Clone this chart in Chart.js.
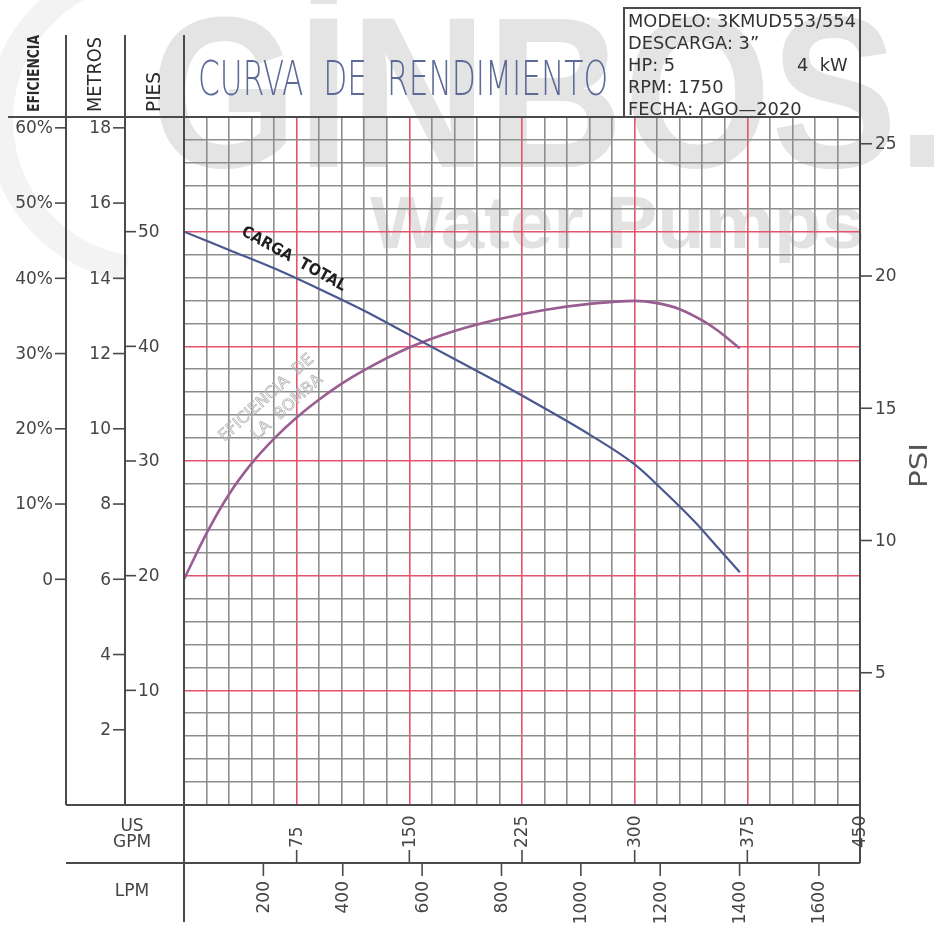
<!DOCTYPE html>
<html>
<head>
<meta charset="utf-8">
<script src="https://cdn.jsdelivr.net/npm/chart.js@4.4.1/dist/chart.umd.min.js"></script>
<style>
  html, body { margin: 0; padding: 0; background: #fff; }
  canvas { display: block; }
</style>
</head>
<body>
<canvas id="curve" width="934" height="929"></canvas>
<script>
// Curva de rendimiento 3KMUD553/554

// carga total (feet) vs caudal (US GPM)
var gpmHead = [0, 30, 60, 90, 120, 150, 180, 210, 240, 270, 300, 320, 340, 355, 370];
var headFt = [50, 48.4, 46.8, 45.0, 43.1, 41.0, 38.9, 36.8, 34.6, 32.3, 29.7, 27.3, 24.7, 22.5, 20.3];

// eficiencia (%) vs caudal (US GPM)
var gpmEff = [0, 15, 30, 45, 60, 75, 90, 105, 120, 150, 180, 210, 240, 270, 300, 315, 330, 345, 355, 370];
var effPct = [0, 6.1, 11.3, 15.4, 18.7, 21.5, 23.9, 26.0, 27.8, 30.8, 33.0, 34.6, 35.8, 36.6, 37.0, 36.7, 35.9, 34.4, 33.1, 30.7];

// tick labels of every scale on the sheet
var effTicks = [0, 10, 20, 30, 40, 50, 60];
var meterTicks = [2, 4, 6, 8, 10, 12, 14, 16, 18];
var feetTicks = [10, 20, 30, 40, 50];
var psiTicks = [5, 10, 15, 20, 25];
var gpmTicks = [75, 150, 225, 300, 375, 450];
var lpmTicks = [200, 400, 600, 800, 1000, 1200, 1400, 1600];

var infoLines = ['MODELO: 3KMUD553/554', 'DESCARGA: 3\u201d', 'HP: 5', 'RPM: 1750', 'FECHA: AGO\u20142020'];

var FT_PER_M = 3.28084;
var FT_PER_PSI = 2.30666;
var LPM_PER_GPM = 3.78541;
var FT_MAX = 60;
var GPM_MAX = 450;
// efficiency scale on the sheet: 0% at 6 m, 10% per 2 m
function effFromMeters(m) { return (m - 6) * 5; }

var RED = '#e8536c';
var GRID = '#8d8d8d';
var FRAME = '#4a4a4a';
var TXT = '#454545';
var TICK_FONT = '17px "DejaVu Sans"';

function toXY(xs, ys) {
  return xs.map(function(x, i) { return { x: x, y: ys[i] }; });
}

function line(ctx, x1, y1, x2, y2) {
  ctx.beginPath();
  ctx.moveTo(x1, y1);
  ctx.lineTo(x2, y2);
  ctx.stroke();
}

// draw text squeezed/stretched to a given width
function fitText(ctx, text, x, y, width) {
  var w = ctx.measureText(text).width;
  ctx.save();
  ctx.translate(x, y);
  ctx.scale(width / w, 1);
  ctx.fillText(text, 0, 0);
  ctx.restore();
}

var watermark = {
  id: 'watermark',
  beforeDraw: function(chart) {
    var ctx = chart.ctx;
    ctx.save();
    ctx.fillStyle = '#fff';
    ctx.fillRect(0, 0, chart.width, chart.height);

    // faint logo ring on the left
    ctx.strokeStyle = '#f3f3f3';
    ctx.lineWidth = 26;
    ctx.beginPath();
    ctx.arc(150, 120, 150, Math.PI * 0.55, Math.PI * 1.45);
    ctx.stroke();

    ctx.fillStyle = '#e4e4e4';
    ctx.textBaseline = 'alphabetic';
    ctx.textAlign = 'left';
    ctx.font = 'bold 215px "Liberation Sans"';
    fitText(ctx, 'G\u0130NBOS.', 150, 167, 800);
    ctx.fillStyle = '#e2e2e2';
    ctx.font = 'bold 74px "Liberation Sans"';
    fitText(ctx, 'Water Pumps', 370, 248, 495);
    ctx.restore();
  }
};

var sheet = {
  id: 'sheet',
  afterDatasetsDraw: function(chart) {
    var ctx = chart.ctx;
    var a = chart.chartArea;
    var s = chart.scales;
    ctx.save();

    // frame
    ctx.strokeStyle = FRAME;
    ctx.lineWidth = 2;
    line(ctx, 8, a.top, a.right, a.top);
    line(ctx, 66, 35, 66, a.bottom);
    line(ctx, 125, 35, 125, a.bottom);
    line(ctx, a.left, 35, a.left, 922);
    line(ctx, 66, a.bottom, a.right, a.bottom);
    line(ctx, a.right, a.top, a.right, 863);
    line(ctx, 66, 863, a.right, 863);
    ctx.strokeRect(624, 8, a.right - 624, a.top - 8);

    ctx.lineWidth = 1.6;
    ctx.fillStyle = TXT;
    ctx.font = TICK_FONT;
    ctx.textBaseline = 'middle';

    // eficiencia
    ctx.textAlign = 'right';
    effTicks.forEach(function(v) {
      var y = s.eff.getPixelForValue(v);
      line(ctx, 55, y, 66, y);
      ctx.fillText(v === 0 ? '0' : v + '%', 53, y + 1);
    });
    // metros
    meterTicks.forEach(function(v) {
      var y = s.metros.getPixelForValue(v);
      line(ctx, 113, y, 125, y);
      ctx.fillText(String(v), 111, y + 1);
    });
    // pies
    ctx.textAlign = 'left';
    feetTicks.forEach(function(v) {
      var y = s.y.getPixelForValue(v);
      line(ctx, 126, y, 136, y);
      ctx.fillText(String(v), 138, y + 1);
    });
    // psi
    psiTicks.forEach(function(v) {
      var y = s.psi.getPixelForValue(v);
      line(ctx, a.right, y, a.right + 12, y);
      ctx.fillText(String(v), a.right + 15, y + 1);
    });
    // US GPM
    gpmTicks.forEach(function(v) {
      var x = s.x.getPixelForValue(v);
      line(ctx, x, 850, x, 863);
      ctx.save();
      ctx.translate(x + 1, 848);
      ctx.rotate(-Math.PI / 2);
      ctx.textAlign = 'left';
      ctx.fillText(String(v), 0, 0);
      ctx.restore();
    });
    // LPM
    lpmTicks.forEach(function(v) {
      var x = s.lpm.getPixelForValue(v);
      line(ctx, x, 863, x, 876);
      ctx.save();
      ctx.translate(x + 1, 881);
      ctx.rotate(-Math.PI / 2);
      ctx.textAlign = 'right';
      ctx.fillText(String(v), 0, 0);
      ctx.restore();
    });

    // axis titles
    ctx.fillStyle = '#2a2a2a';
    ctx.textBaseline = 'middle';
    ctx.textAlign = 'left';
    function vText(text, font, cx, yBottom, len) {
      ctx.save();
      ctx.font = font;
      ctx.translate(cx, yBottom);
      ctx.rotate(-Math.PI / 2);
      fitText(ctx, text, 0, 0, len);
      ctx.restore();
    }
    vText('EFICIENCIA', 'bold 16px "DejaVu Sans Condensed"', 35, 112, 77);
    vText('METROS', '20px "DejaVu Sans"', 96, 112, 75);
    vText('PIES', '20px "DejaVu Sans"', 155, 112, 40);
    ctx.fillStyle = '#555';
    vText('PSI', '25px "DejaVu Sans"', 920, 488, 45);

    ctx.fillStyle = TXT;
    ctx.textAlign = 'center';
    ctx.font = '17px "DejaVu Sans"';
    ctx.fillText('US', 132, 827);
    ctx.fillText('GPM', 132, 843);
    ctx.fillText('LPM', 132, 892);

    // title
    ctx.fillStyle = '#5d6a98';
    ctx.textAlign = 'left';
    ctx.textBaseline = 'alphabetic';
    ctx.font = '200 48px "DejaVu Sans"';
    fitText(ctx, 'CURVA  DE  RENDIMIENTO', 198, 95, 410);

    // info box
    ctx.fillStyle = '#333';
    ctx.font = '18px "DejaVu Sans Condensed"';
    var base = [27, 49, 71, 93, 115];
    var k = 228 / ctx.measureText(infoLines[0]).width;
    infoLines.forEach(function(t, i) {
      ctx.save();
      ctx.translate(628, base[i]);
      ctx.scale(k, 1);
      ctx.fillText(t, 0, 0);
      ctx.restore();
    });
    ctx.save();
    ctx.translate(797, base[2]);
    ctx.scale(k, 1);
    ctx.fillText('4  kW', 0, 0);
    ctx.restore();

    // curve labels
    ctx.save();
    ctx.translate(s.x.getPixelForValue(73), s.y.getPixelForValue(47.6));
    ctx.rotate(29 * Math.PI / 180);
    ctx.fillStyle = '#1f1f1f';
    ctx.textAlign = 'center';
    ctx.textBaseline = 'middle';
    ctx.font = 'bold 16px "DejaVu Sans Condensed"';
    ctx.fillText('CARGA  TOTAL', 0, 0);
    ctx.restore();

    ctx.save();
    ctx.translate(s.x.getPixelForValue(55), s.y.getPixelForValue(35.5));
    ctx.rotate(-42 * Math.PI / 180);
    ctx.strokeStyle = '#b4b4b4';
    ctx.lineWidth = 0.8;
    ctx.textAlign = 'center';
    ctx.textBaseline = 'middle';
    ctx.font = '16px "DejaVu Sans"';
    ctx.strokeText('EFICIENCIA  DE', 0, 0);
    ctx.strokeText('LA  BOMBA', 9, 21);
    ctx.restore();

    ctx.restore();
  }
};

function gridColor(step) {
  return function(c) {
    return c.tick && Math.round(c.tick.value) % step === 0 ? RED : GRID;
  };
}

var meterMax = FT_MAX / FT_PER_M;

new Chart(document.getElementById('curve'), {
  type: 'line',
  data: {
    datasets: [{
      label: 'Carga total',
      data: toXY(gpmHead, headFt),
      yAxisID: 'y',
      borderColor: '#4b5890',
      borderWidth: 2.2,
      pointRadius: 0,
      cubicInterpolationMode: 'monotone',
      fill: false
    }, {
      label: 'Eficiencia',
      data: toXY(gpmEff, effPct),
      yAxisID: 'eff',
      borderColor: '#9a5d92',
      borderWidth: 2.6,
      pointRadius: 0,
      cubicInterpolationMode: 'monotone',
      fill: false
    }]
  },
  options: {
    responsive: false,
    animation: false,
    layout: { padding: { left: 184, top: 117, right: 74, bottom: 124 } },
    plugins: { legend: { display: false }, tooltip: { enabled: false } },
    scales: {
      x: {
        type: 'linear', min: 0, max: GPM_MAX,
        ticks: { display: false, stepSize: 15 },
        border: { display: false },
        grid: { color: gridColor(75), lineWidth: 1.6, drawTicks: false }
      },
      lpm: {
        type: 'linear', position: 'bottom', display: false,
        min: 0, max: GPM_MAX * LPM_PER_GPM
      },
      y: {
        type: 'linear', min: 0, max: FT_MAX,
        ticks: { display: false, stepSize: 2 },
        border: { display: false },
        grid: { color: gridColor(10), lineWidth: 1.6, drawTicks: false }
      },
      metros: {
        type: 'linear', position: 'left', display: false,
        min: 0, max: meterMax
      },
      eff: {
        type: 'linear', position: 'left', display: false,
        min: effFromMeters(0), max: effFromMeters(meterMax)
      },
      psi: {
        type: 'linear', position: 'right', display: false,
        min: 0, max: FT_MAX / FT_PER_PSI
      }
    }
  },
  plugins: [watermark, sheet]
});
</script>
</body>
</html>
